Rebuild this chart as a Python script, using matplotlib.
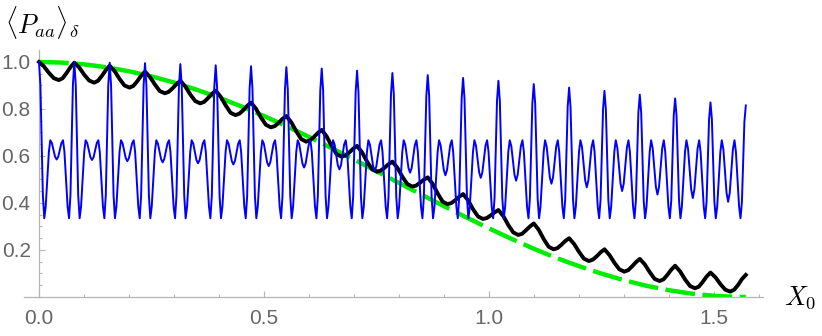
import numpy as np
import matplotlib
matplotlib.use("Agg")
import matplotlib.pyplot as plt
from matplotlib.ticker import MultipleLocator, FixedLocator, FixedFormatter

# X0 runs from 0 to pi/2, the two oscillating curves repeat 20 times over it
x_max = 1.5708
n_periods = 20

# blue curve: values read at these phases within each period
blue_phase = [0, .04, .075, .11, .15, .19, .235, .28, .32, .365, .41, .455,
              .5, .545, .59, .635, .68, .72, .765, .81, .85, .89, .925, .96]
blue_rows = [
    [1.0, .903, .668, .432, .335, .384, .501, .618, .667, .655, .626, .597, .585, .597, .626, .655, .667, .618, .501, .384, .335, .432, .668, .903],
    [1.0, .903, .668, .432, .335, .384, .501, .618, .667, .655, .625, .595, .583, .595, .625, .655, .667, .618, .501, .384, .335, .432, .666, .900],
    [.997, .900, .666, .432, .335, .384, .501, .618, .667, .654, .623, .591, .578, .591, .623, .654, .667, .618, .501, .384, .335, .431, .665, .899],
    [.995, .899, .665, .431, .335, .384, .501, .618, .667, .653, .620, .587, .573, .587, .620, .653, .667, .618, .501, .384, .335, .431, .663, .895],
    [.991, .895, .663, .431, .335, .384, .501, .618, .667, .653, .618, .583, .569, .583, .618, .653, .667, .618, .501, .384, .335, .430, .661, .891],
    [.986, .891, .661, .430, .335, .384, .501, .618, .667, .652, .616, .579, .564, .579, .616, .652, .667, .618, .501, .384, .335, .429, .659, .888],
    [.982, .888, .659, .429, .335, .384, .501, .618, .667, .651, .612, .573, .557, .573, .612, .651, .667, .618, .501, .384, .335, .429, .657, .884],
    [.978, .884, .657, .429, .335, .384, .501, .618, .667, .650, .609, .568, .551, .568, .609, .650, .667, .618, .501, .384, .335, .428, .654, .879],
    [.972, .879, .654, .428, .335, .384, .501, .618, .667, .649, .605, .561, .543, .561, .605, .649, .667, .618, .501, .384, .335, .427, .649, .871],
    [.963, .871, .649, .427, .335, .384, .501, .618, .667, .648, .602, .556, .537, .556, .602, .648, .667, .618, .501, .384, .335, .425, .644, .863],
    [.953, .863, .644, .425, .335, .384, .501, .618, .667, .647, .598, .549, .529, .549, .598, .647, .667, .618, .501, .384, .335, .424, .640, .855],
    [.944, .855, .640, .424, .335, .384, .501, .618, .667, .645, .593, .540, .518, .540, .593, .645, .667, .618, .501, .384, .335, .422, .634, .845],
    [.932, .845, .634, .422, .335, .384, .501, .618, .667, .644, .587, .530, .507, .530, .587, .644, .667, .618, .501, .384, .335, .420, .628, .835],
    [.920, .835, .628, .420, .335, .384, .501, .618, .667, .642, .581, .520, .495, .520, .581, .642, .667, .618, .501, .384, .335, .418, .621, .823],
    [.906, .823, .621, .418, .335, .384, .501, .618, .667, .640, .575, .509, .482, .509, .575, .640, .667, .618, .501, .384, .335, .416, .613, .810],
    [.891, .810, .613, .416, .335, .384, .501, .618, .667, .638, .567, .496, .467, .496, .567, .638, .667, .618, .501, .384, .335, .414, .606, .798],
    [.877, .798, .606, .414, .335, .384, .501, .618, .667, .635, .559, .482, .451, .482, .559, .635, .667, .618, .501, .384, .335, .412, .598, .784],
    [.861, .784, .598, .412, .335, .384, .501, .618, .667, .633, .552, .469, .436, .469, .552, .633, .667, .618, .501, .384, .335, .409, .590, .771],
    [.845, .771, .590, .409, .335, .384, .501, .618, .667, .631, .544, .457, .421, .457, .544, .631, .667, .618, .501, .384, .335, .407, .582, .756],
    [.828, .756, .582, .407, .335, .384, .501, .618, .667, .629, .536, .443, .405, .443, .536, .629, .667, .618, .501, .384, .335, .405, .575, .745],
]
blue_last = .815

# black curve (the delta average)
black_phase = [0, .14, .28, .42, .56, .67, .78, .89]
black_rows = [
    [1.0, .981, .954, .931, .923, .931, .953, .978],
    [.997, .976, .946, .921, .912, .920, .941, .965],
    [.984, .961, .928, .900, .891, .898, .918, .941],
    [.959, .936, .904, .876, .867, .873, .888, .906],
    [.920, .896, .862, .834, .824, .830, .846, .864],
    [.878, .852, .816, .784, .774, .780, .795, .813],
    [.827, .801, .764, .733, .722, .727, .741, .758],
    [.770, .743, .705, .672, .661, .667, .681, .698],
    [.711, .683, .643, .608, .597, .602, .615, .631],
    [.643, .616, .577, .544, .533, .538, .550, .565],
    [.576, .550, .512, .481, .470, .474, .486, .499],
    [.509, .481, .441, .406, .395, .400, .412, .427],
    [.438, .412, .374, .343, .332, .336, .347, .360],
    [.370, .344, .306, .275, .264, .269, .284, .300],
    [.313, .286, .247, .214, .203, .208, .222, .238],
    [.250, .226, .192, .163, .153, .159, .173, .190],
    [.203, .179, .146, .118, .108, .114, .130, .148],
    [.162, .139, .106, .077, .068, .075, .094, .116],
    [.133, .109, .075, .047, .037, .044, .064, .087],
    [.104, .084, .055, .031, .023, .031, .051, .076],
]
black_last = .094

# green dashed curve
green_x = [0, .05, .1, .15, .2, .25, .3, .35, .4, .45, .5, .55, .6, .65, .7, .75, .8,
           .85, .9, .95, 1.0, 1.05, 1.1, 1.15, 1.2, 1.25, 1.3, 1.35, 1.4, 1.45, 1.5, 1.55, 1.5708]
green_y = [1.0, .9975, .990, .9777, .9605, .9388, .9127, .8823, .8484, .8108, .7702, .7268,
           .6812, .6338, .585, .5354, .4854, .4356, .3864, .3385, .2919, .2474, .2051, .1657,
           .1313, .0995, .0716, .0477, .0289, .0145, .005, .0004, 0.0]

x_ticks = [0.0, 0.5, 1.0, 1.5]
x_ticklabels = ["0.0", "0.5", "1.0", "1.5"]
y_ticks = [0.2, 0.4, 0.6, 0.8, 1.0]
y_ticklabels = ["0.2", "0.4", "0.6", "0.8", "1.0"]


def unroll(phase, rows, last):
    period = x_max / n_periods
    xs, ys = [], []
    for k, row in enumerate(rows):
        xs += [(k + p) * period for p in phase]
        ys += list(row)
    xs.append(x_max)
    ys.append(last)
    return np.array(xs), np.array(ys)


plt.rcParams["mathtext.fontset"] = "cm"

fig = plt.figure(figsize=(8.22, 3.36), dpi=100)
ax = fig.add_axes([24 / 822, 39 / 336, 739 / 822, 247 / 336])

bx, by = unroll(blue_phase, blue_rows, blue_last)
kx, ky = unroll(black_phase, black_rows, black_last)

ax.plot(green_x, green_y, color=(0, 0.93, 0), lw=3.2, linestyle=(0, (6.7, 1.7)),
        dash_capstyle="butt", zorder=2)
ax.plot(kx, ky, color="black", lw=2.8, zorder=3)
ax.plot(bx, by, color="blue", lw=1.4, zorder=4)

ax.set_xlim(-0.0333, 1.609)
ax.set_ylim(0, 1.051)

gray_axis = "#b5b5b5"
gray_text = "#666666"
for s in ["top", "right"]:
    ax.spines[s].set_visible(False)
ax.spines["left"].set_position(("data", 0))
ax.spines["left"].set_color(gray_axis)
ax.spines["bottom"].set_color(gray_axis)
ax.spines["left"].set_linewidth(0.9)
ax.spines["bottom"].set_linewidth(0.9)

ax.xaxis.set_major_locator(FixedLocator(x_ticks))
ax.xaxis.set_major_formatter(FixedFormatter(x_ticklabels))
ax.xaxis.set_minor_locator(MultipleLocator(0.1))
ax.yaxis.set_major_locator(FixedLocator(y_ticks))
ax.yaxis.set_major_formatter(FixedFormatter(y_ticklabels))
ax.yaxis.set_minor_locator(FixedLocator(np.arange(0.05, 1.0, 0.05)))

ax.tick_params(which="both", direction="in", color=gray_axis, width=0.8,
               labelcolor=gray_text, labelsize=15)
ax.tick_params(which="major", length=4.5)
ax.tick_params(which="minor", length=2.5)
ax.tick_params(axis="x", pad=9)
ax.tick_params(axis="y", pad=6)
for lab in ax.get_xticklabels() + ax.get_yticklabels():
    lab.set_fontfamily("Liberation Sans")

fig.text(5 / 822, 1 - 4 / 336, r"$\langle P_{aa}\rangle_\delta$", ha="left", va="top",
         fontsize=19, color="black")
fig.text(784 / 822, 31 / 336, r"$X_0$", ha="left", va="baseline",
         fontsize=19, color="black")

fig.savefig("out.png", dpi=100)
